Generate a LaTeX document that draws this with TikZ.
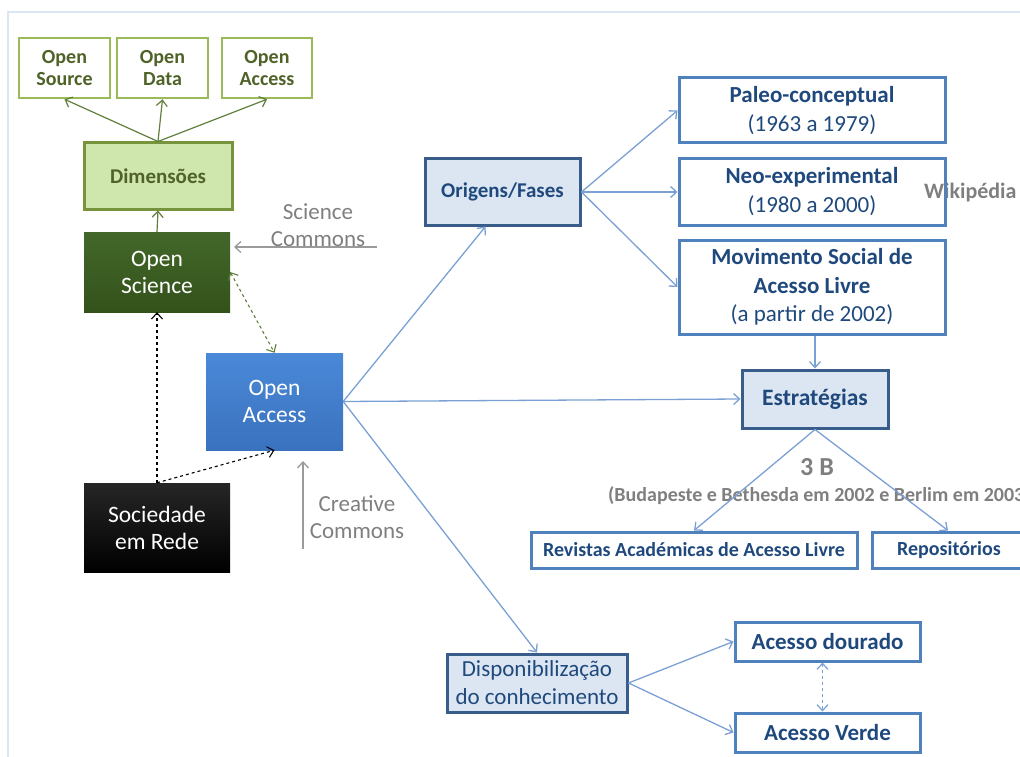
\documentclass[tikz,border=0pt]{standalone}
\usepackage{fontspec}
\setmainfont{Carlito}
\usetikzlibrary{arrows.meta}

\definecolor{frameblue}{HTML}{DCE6F2}
\definecolor{leafgreen}{HTML}{9BBB59}
\definecolor{darkgreen}{HTML}{4F6228}
\definecolor{midgreen}{HTML}{77933C}
\definecolor{palegreen}{HTML}{CFE6AD}
\definecolor{linegreen}{HTML}{5F7F3B}
\definecolor{sciTop}{HTML}{43672A}
\definecolor{sciBot}{HTML}{33521A}
\definecolor{oaTop}{HTML}{4A89D8}
\definecolor{oaBot}{HTML}{3A72BE}
\definecolor{paleblue}{HTML}{DCE6F2}
\definecolor{navy}{HTML}{385D8A}
\definecolor{textblue}{HTML}{1F497D}
\definecolor{boxblue}{HTML}{4F81BD}
\definecolor{lineblue}{HTML}{7BA0D4}
\definecolor{labelgray}{HTML}{7F7F7F}
\definecolor{arrowgray}{HTML}{9A9A9A}

\newcommand\fsz[2]{\fontsize{#1}{#2}\selectfont}

\tikzset{
  tip/.style={-{Straight Barb[length=6pt,width=11pt]}},
  twotip/.style={{Straight Barb[length=6pt,width=11pt]}-{Straight Barb[length=6pt,width=11pt]}},
  leafbox/.style={draw=leafgreen, line width=2.5pt, fill=white, text=darkgreen,
    font=\fsz{20}{22}\bfseries, align=center, inner sep=0pt},
  dimbox/.style={draw=midgreen, line width=3pt, fill=palegreen, text=darkgreen,
    font=\fsz{21}{24}\bfseries, align=center, inner sep=0pt},
  solidbox/.style={draw=none, text=white, font=\fsz{23.5}{27}, align=center, inner sep=0pt},
  navybox/.style={draw=navy, line width=3pt, fill=paleblue, text=textblue,
    align=center, inner sep=0pt},
  bluebox/.style={draw=boxblue, line width=3pt, text=textblue,
    align=center, inner sep=0pt},
  graylabel/.style={text=labelgray, align=center, inner sep=0pt},
  greenline/.style={draw=linegreen, line width=1.2pt, tip},
  blueline/.style={draw=lineblue, line width=1.3pt, tip},
}

\begin{document}
\begin{tikzpicture}[x=1pt,y=-1pt]
\useasboundingbox (0,0) rectangle (1020,757);

% page frame
\draw[frameblue, line width=1.6pt] (8,757) -- (8,12) -- (1021,12);

% source note, partly crossed by the phase box border
\node[graylabel, anchor=west, font=\fsz{22}{24}\bfseries] (wiki) at (924,193) {Wikipédia};

% left column: Open Science branch
\node[leafbox, minimum width=91pt, minimum height=60pt] (osrc) at (64.5,68) {Open\\Source};
\node[leafbox, minimum width=91pt, minimum height=60pt] (odata) at (162.5,68) {Open\\Data};
\node[leafbox, minimum width=90pt, minimum height=60pt] (oacc) at (267,68) {Open\\Access};
\node[dimbox, minimum width=148pt, minimum height=66pt] (dim) at (158,176) {Dimensões};
\node[solidbox, minimum width=146pt, minimum height=80pt,
      top color=sciTop, bottom color=sciBot] (osci) at (157,272) {Open\\Science};
\node[solidbox, minimum width=137pt, minimum height=97pt,
      top color=oaTop, bottom color=oaBot] (oa) at (274.5,401.5) {Open\\Access};
\node[solidbox, minimum width=146pt, minimum height=89pt,
      top color=black!85, bottom color=black] (soc) at (157,527.5) {Sociedade\\em Rede};

% side labels with their arrows
\node[graylabel, font=\fsz{23}{27}] (scicom) at (318,225) {Science\\Commons};
\coordinate (scifrom) at (377,247);
\coordinate (scito) at (234,247);
\node[graylabel, font=\fsz{23}{27}] (crecom) at (357,517) {Creative\\Commons};
\coordinate (crefrom) at (303,549);
\coordinate (creto) at (303,461);

% right side
\node[navybox, minimum width=155pt, minimum height=66pt, font=\fsz{21}{24}\bfseries]
  (orig) at (502.5,192) {Origens/Fases};
\node[bluebox, minimum width=266pt, minimum height=65pt, font=\fsz{23}{29}]
  (paleo) at (812,110.5) {\textbf{Paleo-conceptual}\\(1963 a 1979)};
\node[bluebox, minimum width=266pt, minimum height=66pt, font=\fsz{23}{29}]
  (neo) at (812,192) {\textbf{Neo-experimental}\\(1980 a 2000)};
\node[bluebox, minimum width=266pt, minimum height=94pt, font=\fsz{23}{28.5}]
  (movi) at (812,287) {\textbf{Movimento Social de}\\\textbf{Acesso Livre}\\(a partir de 2002)};
\node[navybox, minimum width=146pt, minimum height=58pt, font=\fsz{23.5}{26}\bfseries]
  (estr) at (815,399) {Estratégias};
\node[graylabel, font=\fsz{26}{30}\bfseries] (threeb) at (817,467) {3 B};
\node[graylabel, anchor=west, font=\fsz{20}{23}\bfseries] (budap) at (608,496)
  {(Budapeste e Bethesda em 2002 e Berlim em 2003)};
\node[bluebox, minimum width=326pt, minimum height=36pt, font=\fsz{20}{22}\bfseries]
  (revis) at (694,550) {Revistas Académicas de Acesso Livre};
\node[bluebox, minimum width=154pt, minimum height=36pt, font=\fsz{20}{22}\bfseries]
  (repo) at (949,550) {Repositórios};
\node[navybox, minimum width=180pt, minimum height=58pt, font=\fsz{23}{28}]
  (disp) at (537,683) {Disponibilização\\do conhecimento};
\node[bluebox, minimum width=185pt, minimum height=39pt, font=\fsz{23}{25}\bfseries]
  (dour) at (827.5,641.5) {Acesso dourado};
\node[bluebox, minimum width=185pt, minimum height=39pt, font=\fsz{23}{25}\bfseries]
  (verde) at (827.5,732.5) {Acesso Verde};

% connectors: Open Science branch
\draw[greenline] (dim.north) -- (osrc.south);
\draw[greenline] (dim.north) -- (odata.south);
\draw[greenline] (dim.north) -- (oacc.south);
\draw[greenline] (osci.north) -- (dim.south);
\draw[linegreen, line width=1.1pt, dashed, twotip] (osci.east) -- (oa.north);
\draw[black, line width=1.1pt, dashed, tip] (soc.north) -- (osci.south);
\draw[black, line width=1.1pt, dashed, tip] (soc.north) -- (oa.south);
\draw[arrowgray, line width=1.3pt, tip] (scifrom) -- (scito);
\draw[arrowgray, line width=1.3pt, tip] (crefrom) -- (creto);

% connectors: Open Access branch
\draw[blueline] (oa.east) -- ([xshift=-17pt]orig.south);
\draw[blueline] (oa.east) -- (estr.west);
\draw[blueline] (oa.east) -- (disp.north);
\draw[blueline] (orig.east) -- (paleo.west);
\draw[blueline] (orig.east) -- (neo.west);
\draw[blueline] (orig.east) -- (movi.west);
\draw[blueline] ([xshift=3pt]movi.south) -- (estr.north);
\draw[blueline] (estr.south) -- (revis.north);
\draw[blueline] (estr.south) -- ([xshift=-1pt]repo.north);
\draw[blueline] (disp.east) -- (dour.west);
\draw[blueline] (disp.east) -- (verde.west);
\draw[lineblue, line width=1.2pt, dashed, twotip] ([xshift=-5pt]dour.south) -- ([xshift=-5pt]verde.north);
\end{tikzpicture}
\end{document}
